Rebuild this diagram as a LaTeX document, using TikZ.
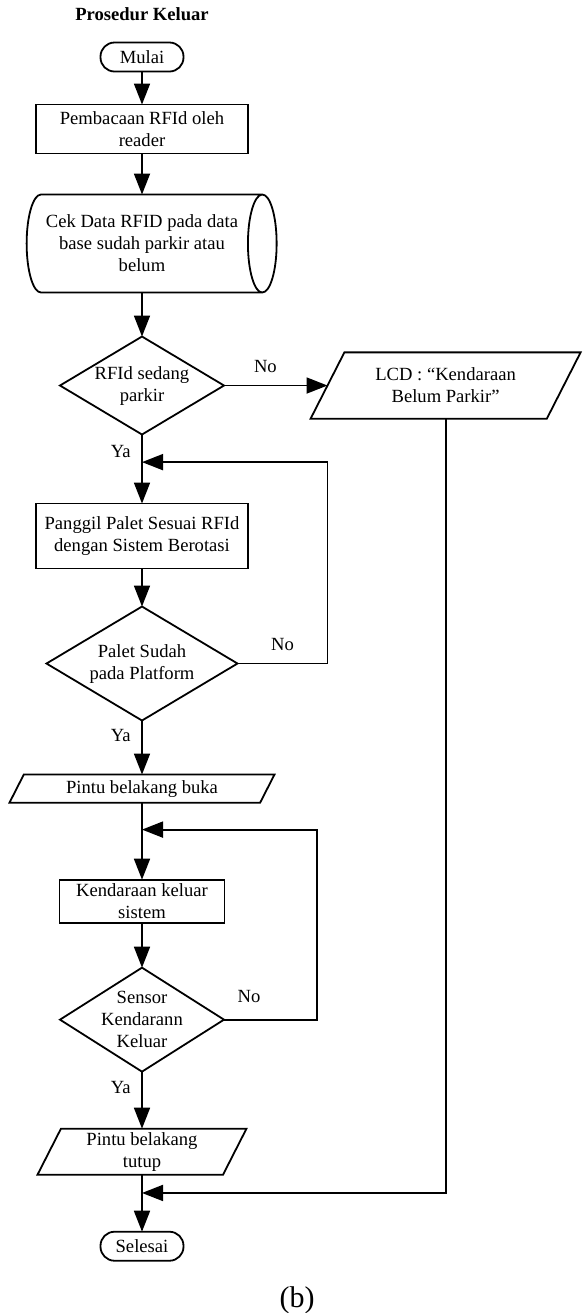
\documentclass[tikz,border=0pt]{standalone}
\usepackage{fontspec}
\setmainfont{Liberation Serif}
\usepackage{tikz}
\usetikzlibrary{positioning}
\usetikzlibrary{shapes.geometric,arrows.meta,calc}
\tikzstyle{startstop} = [rectangle, rounded corners=7pt, minimum width=41.5pt, minimum height=14.5pt, text centered, draw=black, outer sep=0pt]
\tikzstyle{process} = [rectangle, minimum width=106pt, align=center, draw=black, outer sep=0pt, inner sep=1pt]
\tikzstyle{storage} = [cylinder, aspect=0.47, minimum width=49pt, minimum height=125pt, align=center, draw=black, outer sep=0pt, inner sep=1pt]
\tikzstyle{decision} = [diamond, shape aspect=1.6, inner sep=-3pt, align=center, draw=black, outer sep=0pt]
\tikzstyle{io} = [trapezium, trapezium left angle=63, trapezium right angle=117, trapezium stretches body, align=center, draw=black, outer sep=0pt, inner xsep=1pt]
\tikzstyle{arrow} = [-{Triangle[length=10.5pt,width=8pt]}]

\begin{document}
\begin{tikzpicture}[line width=0.9pt, every node/.style={font=\fontsize{9.3}{11}\selectfont}]
	\useasboundingbox (0,0) rectangle (291.5pt,-656.5pt);
	\node[startstop] (mulai) at (71pt,-28.5pt) {Mulai};
	\node[font=\fontsize{9.3}{11}\selectfont\bfseries, above=7.2pt of mulai] (judul) {Prosedur Keluar};
	\node[process, below=16.5pt of mulai, minimum height=24.5pt] (baca) {Pembacaan RFId oleh\\reader};
	\node[storage, below=20.5pt of baca] (cek) {Cek Data RFID pada data\\base sudah parkir atau\\belum};
	\node[decision, below=22pt of cek, minimum width=82pt, minimum height=49pt] (d1) {RFId sedang\\parkir};
	\node[io, right=51.75pt of d1, minimum width=135pt, minimum height=33pt, inner ysep=7.8pt] (lcd) {LCD : “Kendaraan\\Belum Parkir”};
	\node[process, below=34.5pt of d1, minimum height=32.5pt] (panggil) {Panggil Palet Sesuai RFId\\dengan Sistem Berotasi};
	\node[decision, below=19pt of panggil, minimum width=95.5pt, minimum height=57pt] (d2) {Palet Sudah\\pada Platform};
	\node[io, below=27pt of d2, minimum width=132.5pt, minimum height=14pt, inner ysep=2.8pt] (buka) {Pintu belakang buka};
	\node[process, below=38.5pt of buka, minimum width=82.5pt, minimum height=21.5pt] (keluar) {Kendaraan keluar\\sistem};
	\node[decision, below=22.5pt of keluar, minimum width=82pt, minimum height=52pt] (d3) {Sensor\\Kendarann\\Keluar};
	\node[io, below=28.5pt of d3, minimum width=104.5pt, minimum height=23pt, inner ysep=1.8pt] (tutup) {Pintu belakang\\tutup};
	\node[startstop, below=28.5pt of tutup] (selesai) {Selesai};
	\node[font=\fontsize{15}{18}\selectfont, below=9.2pt of selesai, xshift=77.5pt] (sub) {(b)};
	\coordinate (j1) at ($(d1.south)!0.4!(panggil.north)$);
	\coordinate (j2) at ($(buka.south)!0.35!(keluar.north)$);
	\coordinate (j3) at ($(tutup.south)!0.32!(selesai.north)$);
	\draw[arrow] (mulai) -- (baca);
	\draw[arrow] (baca) -- (cek);
	\draw[arrow] (cek) -- (d1);
	\draw[arrow] (d1.east) -- node[above=2.8pt, pos=0.4] (no1) {No} (lcd.west);
	\draw[arrow] (d1.south) -- node[left=1.9pt, pos=0.25] (ya1) {Ya} (panggil.north);
	\draw[arrow] (panggil) -- (d2);
	\draw[arrow] (d2.east) -| node[above=2.8pt, pos=0.25] (no2) {No} (lcd.west |- j1) -- (j1);
	\draw[arrow] (d2.south) -- node[left=1.9pt, pos=0.28] (ya2) {Ya} (buka.north);
	\draw[arrow] (buka) -- (keluar);
	\draw[arrow] (keluar) -- (d3);
	\draw[arrow] (d3.east) -- node[above=4.8pt, pos=0.27] (no3) {No} ++(46.5pt,0) |- (j2);
	\draw[arrow] (d3.south) -- node[left=1.9pt, pos=0.28] (ya3) {Ya} (tutup.north);
	\draw[arrow] (tutup) -- (selesai);
	\draw[arrow] (lcd.south) |- (j3);
\end{tikzpicture}
\end{document}
